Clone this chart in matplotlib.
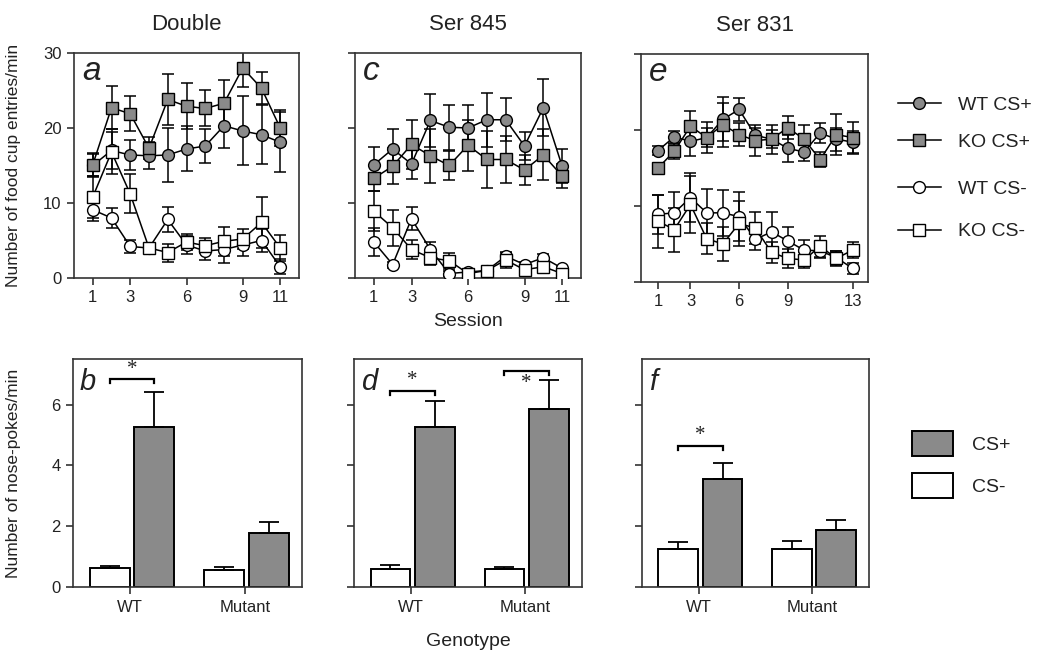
import matplotlib
matplotlib.use("Agg")
import matplotlib.pyplot as plt
from matplotlib.lines import Line2D
from matplotlib.patches import Patch
import numpy as np

plt.rcParams['font.family'] = ['Liberation Sans', 'DejaVu Sans']

GRAY = '#8a8a8a'
SPINE = '#333333'
TXT = '#222222'

# ---------------- line-panel data ----------------
sessions_11 = list(range(1, 12))
sessions_13 = list(range(1, 14))

a_wt_pos = [15.0, 17.0, 16.4, 16.3, 16.4, 17.2, 17.6, 20.3, 19.6, 19.1, 18.1]
a_wt_pos_err = [1.5, 2.5, 2.0, 1.8, 3.6, 3.0, 2.3, 3.0, 4.6, 3.9, 4.0]
a_ko_pos = [15.1, 22.7, 21.9, 17.3, 23.8, 22.9, 22.6, 23.3, 28.0, 25.3, 20.0]
a_ko_pos_err = [1.5, 2.9, 2.3, 1.5, 3.4, 3.1, 2.4, 3.1, 2.5, 2.1, 2.4]
a_wt_neg = [9.1, 8.0, 4.2, 4.0, 7.8, 4.4, 3.6, 3.8, 4.4, 5.0, 1.5]
a_wt_neg_err = [1.5, 1.3, 0.9, 0.5, 1.6, 1.2, 1.2, 1.8, 1.5, 1.5, 1.0]
a_ko_neg = [10.8, 16.8, 11.2, 4.0, 3.4, 4.8, 4.3, 4.9, 5.2, 7.4, 4.0]
a_ko_neg_err = [2.8, 3.0, 2.6, 0.4, 1.2, 1.0, 1.0, 1.9, 1.3, 3.4, 1.7]

c_wt_pos = [15.1, 17.2, 15.2, 21.0, 20.1, 20.0, 21.1, 21.1, 17.6, 22.7, 14.9]
c_wt_pos_err = [2.4, 2.7, 2.0, 3.5, 3.0, 3.0, 3.6, 2.9, 1.9, 3.8, 2.3]
c_ko_pos = [13.3, 14.9, 17.8, 16.3, 15.0, 17.7, 15.8, 15.8, 14.4, 16.4, 13.6]
c_ko_pos_err = [1.7, 2.4, 3.3, 3.6, 1.9, 3.4, 3.8, 3.1, 2.0, 3.4, 1.6]
c_wt_neg = [4.8, 1.8, 7.9, 3.8, 0.6, 0.8, 1.0, 2.9, 1.8, 2.7, 1.3]
c_wt_neg_err = [1.8, 0.4, 1.5, 1.0, 0.3, 0.4, 0.3, 0.6, 0.4, 0.5, 0.3]
c_ko_neg = [8.9, 6.7, 3.8, 2.7, 2.3, 0.6, 1.0, 2.4, 1.1, 1.5, 0.6]
c_ko_neg_err = [2.7, 2.4, 1.3, 1.0, 1.1, 0.3, 0.3, 1.0, 0.4, 0.5, 0.3]

e_wt_pos = [17.3, 19.1, 18.5, 19.0, 21.4, 22.7, 19.3, 18.8, 17.6, 17.1, 19.6, 18.8, 18.4]
e_wt_pos_err = [0.6, 0.8, 1.9, 1.2, 2.9, 1.5, 1.0, 1.2, 1.8, 1.2, 1.3, 1.5, 1.5]
e_ko_pos = [15.0, 17.2, 20.5, 19.0, 20.7, 19.4, 18.6, 18.8, 20.3, 18.8, 16.1, 19.4, 19.0]
e_ko_pos_err = [0.6, 1.0, 2.0, 2.0, 2.9, 1.5, 2.0, 1.9, 1.5, 1.9, 1.0, 2.7, 2.0]
e_wt_neg = [8.9, 9.1, 11.1, 9.1, 9.1, 8.6, 5.6, 6.6, 5.4, 4.2, 4.1, 3.2, 1.8]
e_wt_neg_err = [2.6, 2.8, 3.2, 3.2, 3.0, 3.2, 1.4, 2.6, 1.8, 1.3, 1.0, 0.9, 0.7]
e_ko_neg = [8.0, 6.9, 10.2, 5.7, 5.0, 7.7, 7.1, 3.9, 3.1, 2.9, 4.7, 3.1, 4.2]
e_ko_neg_err = [3.5, 2.9, 3.8, 2.0, 2.2, 2.9, 2.1, 1.4, 1.2, 1.0, 1.4, 1.0, 1.1]

# ---------------- bar-panel data ----------------
genotypes = ['WT', 'Mutant']
b_neg = [0.62, 0.56]; b_neg_err = [0.08, 0.09]
b_pos = [5.25, 1.79]; b_pos_err = [1.17, 0.36]
d_neg = [0.60, 0.60]; d_neg_err = [0.11, 0.06]
d_pos = [5.25, 5.86]; d_pos_err = [0.88, 0.94]
f_neg = [1.25, 1.25]; f_neg_err = [0.22, 0.25]
f_pos = [3.56, 1.88]; f_pos_err = [0.53, 0.31]

titles = ['Double', 'Ser 845', 'Ser 831']
top_letters = ['a', 'c', 'e']
bot_letters = ['b', 'd', 'f']
series_labels = ['WT CS+', 'KO CS+', 'WT CS-', 'KO CS-']

W, H = 1050, 659
fig = plt.figure(figsize=(W / 100, H / 100), dpi=100)


def ax_px(l, t, r, b):
    return fig.add_axes([l / W, 1 - b / H, (r - l) / W, (b - t) / H])


def style(ax):
    for s in ax.spines.values():
        s.set_color(SPINE)
        s.set_linewidth(1.2)
    ax.tick_params(direction='out', length=5, width=1.2, color=SPINE,
                   labelsize=12, labelcolor=TXT, pad=4)


ax_a = ax_px(74, 53, 299, 278)
ax_c = ax_px(355, 53, 581, 278)
ax_e = ax_px(641, 54, 868, 282)
ax_b = ax_px(73, 359, 302, 587)
ax_d = ax_px(354, 359, 582, 587)
ax_f = ax_px(642, 359, 869, 587)

top_data = [
    (ax_a, sessions_11, [(a_wt_pos, a_wt_pos_err), (a_ko_pos, a_ko_pos_err),
                         (a_wt_neg, a_wt_neg_err), (a_ko_neg, a_ko_neg_err)],
     [1, 3, 6, 9, 11], (0, 12)),
    (ax_c, sessions_11, [(c_wt_pos, c_wt_pos_err), (c_ko_pos, c_ko_pos_err),
                         (c_wt_neg, c_wt_neg_err), (c_ko_neg, c_ko_neg_err)],
     [1, 3, 6, 9, 11], (0, 12)),
    (ax_e, sessions_13, [(e_wt_pos, e_wt_pos_err), (e_ko_pos, e_ko_pos_err),
                         (e_wt_neg, e_wt_neg_err), (e_ko_neg, e_ko_neg_err)],
     [1, 3, 6, 9, 13], (-0.05, 13.95)),
]
styles = [('o', GRAY, 8.5), ('s', GRAY, 8), ('o', 'white', 8.5), ('s', 'white', 8)]

for i, (ax, xs, series, xt, xl) in enumerate(top_data):
    for (vals, errs), (mk, fc, ms) in zip(series, styles):
        ax.errorbar(xs, vals, yerr=errs, fmt='-', color='black', lw=1.1,
                    elinewidth=1.1, capsize=4.3, capthick=1.1, zorder=2)
        ax.plot(xs, vals, linestyle='none', marker=mk, mfc=fc, mec='black',
                mew=1.0, ms=ms, zorder=3)
    ax.set_xlim(*xl)
    ax.set_ylim(0, 30)
    ax.set_xticks(xt)
    ax.set_yticks([0, 10, 20, 30])
    style(ax)
    if i > 0:
        ax.set_yticklabels([])
    ax.text(0.5, 1.125, titles[i], transform=ax.transAxes, ha='center',
            va='center', fontsize=16, color=TXT)
    ax.text(0.035, 0.88, top_letters[i], transform=ax.transAxes, ha='left',
            va='baseline', fontsize=24, style='italic', color=TXT)

bar_data = [
    (ax_b, b_neg, b_neg_err, b_pos, b_pos_err),
    (ax_d, d_neg, d_neg_err, d_pos, d_pos_err),
    (ax_f, f_neg, f_neg_err, f_pos, f_pos_err),
]
xg = np.arange(len(genotypes))
bw = 0.35
for i, (ax, neg, nerr, pos, perr) in enumerate(bar_data):
    ax.bar(xg - 0.18, neg, width=bw, color='white', edgecolor='black', lw=1.4,
           yerr=[[0, 0], nerr], capsize=7.5,
           error_kw=dict(elinewidth=1.3, capthick=1.3, ecolor='black'), zorder=2)
    ax.bar(xg + 0.21, pos, width=bw, color=GRAY, edgecolor='black', lw=1.4,
           yerr=[[0, 0], perr], capsize=7.5,
           error_kw=dict(elinewidth=1.3, capthick=1.3, ecolor='black'), zorder=2)
    ax.set_xlim(-0.5, 1.5)
    ax.set_ylim(0, 7.5)
    ax.set_xticks(xg)
    ax.set_xticklabels(genotypes)
    ax.set_yticks([0, 2, 4, 6])
    style(ax)
    if i > 0:
        ax.set_yticklabels([])
    ax.text(0.03, 0.864, bot_letters[i], transform=ax.transAxes, ha='left',
            va='baseline', fontsize=21, style='italic', color=TXT)


def bracket(ax, g, y, star_y, down=0.13):
    x0, x1 = g - 0.18, g + 0.21
    ax.plot([x0, x0, x1, x1], [y - down, y, y, y - down], color='black',
            lw=1.6, solid_joinstyle='miter', zorder=4)
    ax.text((x0 + x1) / 2, star_y, '*', ha='center', va='center',
            fontsize=15, family='Liberation Serif', color=TXT)


bracket(ax_b, 0, 6.84, 7.15)
bracket(ax_d, 0, 6.46, 6.8)
bracket(ax_d, 1, 7.1, 6.68)
bracket(ax_f, 0, 4.65, 5.0)

# axis labels
fig.text(14 / W, 1 - 165.5 / H, 'Number of food cup entries/min', rotation=90,
         ha='center', va='center', fontsize=12.5, color=TXT)
fig.text(14 / W, 1 - 473 / H, 'Number of nose-pokes/min', rotation=90,
         ha='center', va='center', fontsize=12.5, color=TXT)
fig.text(468 / W, 1 - 322 / H, 'Session', ha='center', va='center',
         fontsize=14, color=TXT)
fig.text(468 / W, 1 - 642 / H, 'Genotype', ha='center', va='center',
         fontsize=14, color=TXT)

# legends
line_handles = [Line2D([], [], color='black', lw=1.1, marker=mk, mfc=fc,
                       mec='black', ms=ms) for (mk, fc, ms) in styles]
leg_kw = dict(loc='upper left', frameon=False, fontsize=14, handlelength=2.2,
              handletextpad=0.9, borderpad=0, borderaxespad=0)
leg1 = fig.legend(line_handles[:2], series_labels[:2],
                  bbox_to_anchor=(898 / W, 1 - 96 / H), labelspacing=1.0,
                  **leg_kw)
leg2 = fig.legend(line_handles[2:], series_labels[2:],
                  bbox_to_anchor=(898 / W, 1 - 180 / H), labelspacing=1.3,
                  **leg_kw)

bar_handles = [Patch(facecolor=GRAY, edgecolor='black', lw=1.4),
               Patch(facecolor='white', edgecolor='black', lw=1.4)]
leg3 = fig.legend(bar_handles, ['CS+', 'CS-'], loc='upper left',
                  bbox_to_anchor=(912 / W, 1 - 431 / H), frameon=False,
                  fontsize=14, handlelength=2.1, handleheight=1.6,
                  handletextpad=1.0, labelspacing=0.9, borderpad=0,
                  borderaxespad=0)
for lg in (leg1, leg2, leg3):
    for t in lg.get_texts():
        t.set_color(TXT)

fig.savefig('out.png', dpi=100)
